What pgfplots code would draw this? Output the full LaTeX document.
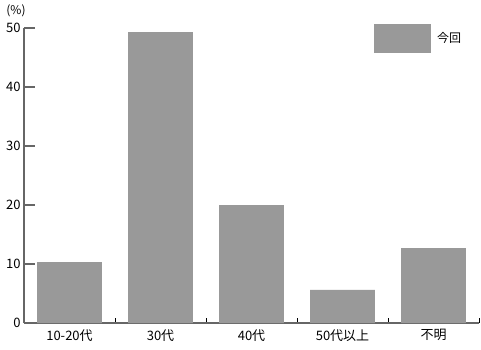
\documentclass[border=0pt]{standalone}
\usepackage{pgfplots}
\pgfplotsset{compat=1.18}
\usepackage{fontspec}
\setmainfont{Noto Sans CJK JP}
\definecolor{barc}{HTML}{999999}
\definecolor{axc}{HTML}{666666}
\begin{document}
\begin{tikzpicture}
\begin{axis}[
  at={(0,0)}, anchor=south west,
  scale only axis, width=455pt, height=295pt,
  xmin=-0.5, xmax=4.5, ymin=0, ymax=50,
  axis lines=left, axis line style={draw=axc, line width=1.3pt, -},
  xtick={0,1,2,3,4},
  xticklabels={10-20代,30代,40代,50代以上,不明},
  minor xtick={0.5,1.5,2.5,3.5,4.5},
  major x tick style={draw=none},
  minor x tick style={draw=black, line width=0.8pt},
  minor tick length=5pt,
  ytick={0,10,20,30,40,50},
  y tick style={draw=axc, line width=1.3pt},
  major tick length=11pt,
  tick align=inside,
  tick label style={font=\fontsize{13}{15}\selectfont},
  /pgf/number format/assume math mode=true,
  yticklabel style={xshift=0pt},
  xticklabel style={yshift=-3pt},
  legend style={at={(0.769,0.964)}, anchor=west, draw=none, fill=none, inner sep=0pt,
    font=\fontsize{12}{14}\selectfont},
  legend image code/.code={\fill[#1] (0pt,-14.5pt) rectangle (57pt,14.5pt); \path (61pt,0pt);},
  clip=false,
]
\addplot[ybar, bar width=0.714, fill=barc, draw=none] coordinates {
  (0,10.3) (1,49.3) (2,20.0) (3,5.6) (4,12.7)
};
\addlegendentry{今回}
\node[font=\fontsize{12}{14}\selectfont] at ([xshift=-8pt,yshift=17pt]rel axis cs:0,1) {(\%)};
\end{axis}
\pgfresetboundingbox
\useasboundingbox (-24pt,-26pt) rectangle (457pt,323pt);
\end{tikzpicture}
\end{document}
